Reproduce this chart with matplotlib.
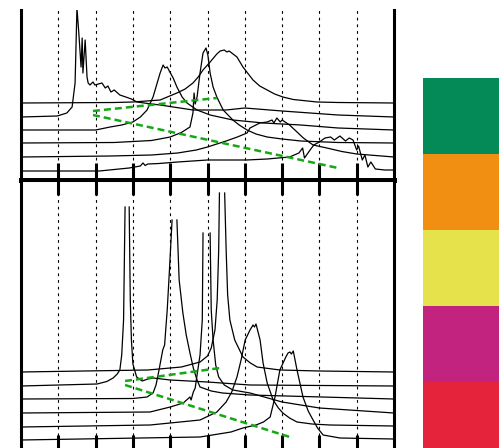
import numpy as np
from matplotlib import pyplot as plt

nan = np.nan

# top panel spectra (x position, offset intensity)
a_x = [0, 2.1, 2.9, 3.2, 3.27, 3.33, 3.4, 3.7, 4.2, 5.0, 6.05, 6.6, 7.2, 7.45, 7.55, 7.6, 7.75, 7.85, 8.0, 8.15,
       8.3, 8.4, 8.55, 8.7, 8.8, 8.9, 9.0, 9.05, 9.15, 9.22, 9.3, 9.38, 9.5, 9.75, 10]
a_y = [0.9, 0.9, 1.2, 1.4, 1.7, 1.45, 1.6, 1.65, 1.8, 2.0, 2.0, 2.1, 2.3, 2.7, 3.2, 2.2, 3.0, 3.5, 3.8, 4.2,
       4.3, 4.0, 4.4, 3.9, 4.2, 4.0, 3.0, 3.4, 2.0, 2.5, 1.3, 1.8, 1.1, 1.0, 1.0]
b_x = [0, 2.4, 3.5, 4.2, 4.7, 5.0, 5.5, 5.8, 6.06, 6.14, 6.4, 6.6, 6.73, 6.78, 6.86, 6.95, 7.0, 7.2, 7.4, 7.57,
       7.83, 8.2, 8.6, 9.0, 10]
b_y = [2.3, 2.4, 2.5, 2.7, 3.0, 3.3, 3.9, 4.3, 4.7, 5.2, 5.7, 5.8, 6.0, 5.7, 6.2, 5.8, 6.0, 5.5, 4.8, 4.2,
       3.5, 3.2, 2.85, 2.6, 2.3]
c_x = [0, 2.5, 3.5, 4.0, 4.3, 4.53, 4.61, 4.64, 4.67, 4.72, 4.8, 4.88, 4.96, 5.01, 5.07, 5.15, 5.25, 5.42, 5.68,
       5.85, 6.06, 6.3, 6.6, 7.0, 7.5, 8.5, 10]
c_y = [3.7, 3.75, 3.95, 4.3, 4.75, 5.3, 6.7, 8.7, 7.6, 8.3, 10.7, 12.7, 13.2, 12.5, 10.7, 9.3, 8.3, 7.0, 6.0,
       5.5, 5.0, 4.6, 4.3, 4.1, 3.9, 3.75, 3.7]
d_x = [0, 2.0, 2.39, 2.7, 3.0, 3.2, 3.38, 3.54, 3.73, 3.81, 3.86, 3.92, 3.99, 4.08, 4.18, 4.32, 4.45, 4.72, 5.07,
       5.68, 6.5, 7.5, 8.5, 10]
d_y = [5.0, 5.0, 5.3, 5.5, 5.8, 6.3, 7.0, 8.3, 10.7, 11.5, 11.2, 11.3, 10.8, 10.2, 9.3, 8.3, 7.7, 7.0, 6.5,
       6.0, 5.7, 5.5, 5.2, 5.0]
e_x = [0, 0.97, 1.23, 1.37, 1.45, 1.50, 1.55, 1.61, 1.64, 1.66, 1.72, 1.77, 1.80, 1.85, 1.93, 1.98, 2.17, 2.26, 2.33, 2.41,
       2.5, 2.65, 2.81, 2.96, 3.11, 3.5, 3.73, 4.61, 5.5, 6.0, 7.0, 8.5, 10]
e_y = [6.3, 6.4, 6.7, 7.3, 9.7, 17.2, 14.7, 11.3, 14.2, 10.7, 14.0, 10.3, 9.7, 9.5, 9.8, 9.5, 9.7, 9.2, 9.4, 8.8,
       9.0, 8.5, 8.3, 8.1, 7.8, 7.6, 7.5, 7.0, 7.0, 7.2, 6.9, 6.5, 6.3]
f_x = [0, 2.5, 3.0, 3.73, 4.18, 4.4, 4.61, 4.75, 4.88, 5.07, 5.25, 5.34, 5.45, 5.52, 5.58, 5.79, 5.95, 6.22, 6.4,
       6.6, 6.8, 7.02, 7.3, 7.94, 8.5, 10]
f_y = [7.7, 7.75, 7.8, 8.0, 8.7, 9.1, 9.7, 10.3, 11.0, 11.8, 12.6, 12.9, 13.0, 12.8, 12.9, 12.3, 11.3, 10.0, 9.4,
       9.0, 8.6, 8.3, 8.05, 7.8, 7.75, 7.7]

# top guide lines
tg1_x, tg1_y = [1.93, 5.25], [6.9, 8.2]
tg2_x, tg2_y = [1.93, 8.5], [6.5, 1.2]

# bottom panel spectra
g_x = [0, 3.4, 4.3, 4.8, 5.0, 5.1, 5.2, 5.26, 5.3, 5.32, nan, 5.46, 5.5, 5.54, 5.6, 5.73, 5.95, 6.15, 6.33,
       6.94, 8.0, 10]
g_y = [7.8, 8.0, 8.3, 8.8, 9.4, 10.2, 12.0, 15.0, 20.0, 25.7, nan, 25.7, 20.0, 15.5, 13.0, 11.0, 9.3, 8.7, 8.3,
       8.0, 7.9, 7.8]
h_x = [0, 2.04, 2.3, 2.47, 2.58, 2.65, 2.7, 2.75, 2.79, nan, 2.9, 2.93, 2.96, 3.0, 3.1, 3.25, 3.4, 3.55, 4.0,
       5.0, 6.14, 10]
h_y = [6.4, 6.6, 6.85, 7.2, 7.6, 8.0, 9.5, 13.0, 24.3, nan, 24.3, 15.0, 11.0, 8.6, 7.3, 6.9, 7.1, 7.2, 7.0,
       6.8, 6.5, 6.4]
i_x = [0, 3.0, 3.38, 3.54, 3.62, 3.7, 3.8, 3.85, 3.92, 3.98, 4.05, nan, 4.18, 4.24, 4.34, 4.43, 4.53, 4.62,
       4.72, 4.8, 5.1, 5.4, 6.14, 10]
i_y = [5.1, 5.15, 5.3, 5.7, 6.5, 8.0, 10.0, 10.5, 14.0, 18.0, 23.0, nan, 23.0, 17.0, 13.7, 11.5, 9.7, 8.2,
       7.0, 6.3, 5.9, 5.7, 5.5, 5.1]
j_x = [0, 3.46, 4.0, 4.35, 4.53, 4.56, 4.62, 4.67, 4.72, 4.8, 4.86, 4.88, nan, 5.07, 5.1, 5.15, 5.22, 5.3, 5.45,
       5.68, 6.14, 7.0, 8.0, 10]
j_y = [3.7, 3.8, 4.3, 4.7, 5.3, 5.0, 5.8, 6.2, 7.5, 9.5, 13.0, 21.7, nan, 21.7, 14.0, 11.0, 8.5, 7.3, 6.5,
       6.0, 5.7, 4.8, 4.2, 3.7]
k_x = [0, 3.46, 4.8, 5.25, 5.5, 5.65, 5.79, 5.9, 6.01, 6.14, 6.22, 6.26, 6.3, 6.41, 6.49, 6.6, 6.76, 6.9, 7.02,
       7.2, 7.4, 7.8, 8.28, 10]
k_y = [2.3, 2.5, 3.0, 3.8, 4.8, 5.8, 7.3, 9.0, 11.0, 12.0, 12.5, 12.3, 12.6, 11.0, 8.7, 6.7, 5.0, 4.2, 3.7,
       3.2, 2.8, 2.6, 2.5, 2.4]
l_x = [0, 4.8, 5.63, 5.95, 6.3, 6.5, 6.68, 6.81, 6.94, 7.1, 7.16, 7.21, 7.25, 7.3, 7.4, 7.56, 7.7, 7.83, 7.95,
       8.1, 8.55, 10]
l_y = [1.0, 1.3, 1.8, 2.2, 2.5, 2.8, 3.3, 5.3, 8.0, 9.3, 9.7, 9.8, 9.6, 9.9, 8.0, 5.3, 3.9, 3.0, 2.2,
       1.5, 1.2, 1.1]

# bottom guide lines
bg1_x, bg1_y = [2.79, 5.34], [6.9, 8.2]
bg2_x, bg2_y = [2.79, 7.29], [6.5, 1.2]

# colour key, top to bottom
key_colors = ["#038A57", "#F18F12", "#E5E24B", "#C2237F", "#E5233A"]

guide_green = "#14a814"
tick_pos = list(range(1, 10))

fig = plt.figure(figsize=(5.03, 4.48), dpi=100)

# top panel
ax1 = fig.add_axes([21/503, 1 - 180/448, 373/503, 170/448])
for xs, ys in [(a_x, a_y), (b_x, b_y), (c_x, c_y), (d_x, d_y), (e_x, e_y), (f_x, f_y)]:
    ax1.plot(xs, ys, color="black", lw=0.9)
ax1.plot(tg1_x, tg1_y, color=guide_green, lw=1.8, ls=(0, (2.8, 1.6)))
ax1.plot(tg2_x, tg2_y, color=guide_green, lw=1.8, ls=(0, (2.8, 1.6)))
for xv in tick_pos:
    ax1.axvline(xv, color="black", lw=0.8, ls=(0, (2.5, 3.5)), zorder=0)
ax1.set_xlim(0, 10)
ax1.set_ylim(0, 17)
ax1.set_xticks(tick_pos)
ax1.set_yticks([])
ax1.tick_params(axis="x", direction="in", length=12, width=2.2, labelbottom=False)
ax1.spines["top"].set_visible(False)
ax1.spines["left"].set_linewidth(2.2)
ax1.spines["right"].set_linewidth(2.2)
ax1.spines["bottom"].set_linewidth(3.6)

# bottom panel
ax2 = fig.add_axes([21/503, 1 - 450/448, 373/503, 270/448])
for xs, ys in [(g_x, g_y), (h_x, h_y), (i_x, i_y), (j_x, j_y), (k_x, k_y), (l_x, l_y)]:
    ax2.plot(xs, ys, color="black", lw=0.9)
ax2.plot(bg1_x, bg1_y, color=guide_green, lw=1.8, ls=(0, (2.8, 1.6)))
ax2.plot(bg2_x, bg2_y, color=guide_green, lw=1.8, ls=(0, (2.8, 1.6)))
for xv in tick_pos:
    ax2.axvline(xv, color="black", lw=0.8, ls=(0, (2.5, 3.5)), zorder=0)
ax2.set_xlim(0, 10)
ax2.set_ylim(0, 27)
ax2.set_xticks(tick_pos)
ax2.set_yticks([])
ax2.tick_params(axis="x", direction="in", length=11, width=2.2, top=True, bottom=True,
                labelbottom=False)
for s in ["left", "right", "top", "bottom"]:
    ax2.spines[s].set_linewidth(2.2)

# colour key
ax3 = fig.add_axes([423/503, 1 - 458/448, 76/503, 380/448])
ax3.bar([0]*5, [1]*5, bottom=[4, 3, 2, 1, 0], width=1, color=key_colors)
ax3.set_xlim(-0.5, 0.5)
ax3.set_ylim(0, 5)
ax3.axis("off")

plt.savefig("out.png", dpi=100)
